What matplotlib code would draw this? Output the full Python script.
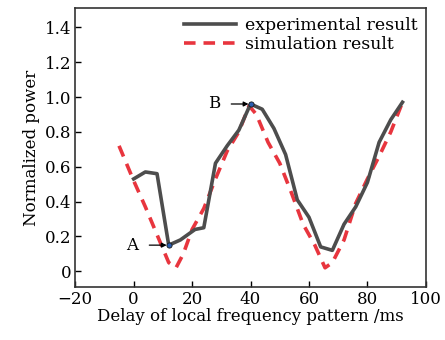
import matplotlib
matplotlib.use("Agg")
import matplotlib.pyplot as plt

# experimental result
exp_x = [0, 4, 8, 12, 16, 21, 24, 28, 32, 36, 40, 44, 48, 52, 56, 60, 64, 68, 72, 76, 80, 84, 88, 92]
exp_y = [0.53, 0.57, 0.56, 0.15, 0.18, 0.24, 0.25, 0.62, 0.72, 0.81, 0.96, 0.93, 0.82, 0.67,
         0.41, 0.31, 0.14, 0.12, 0.27, 0.37, 0.51, 0.74, 0.87, 0.97]

# simulation result
sim_x = [-5, 0, 4, 8, 12, 14.5, 17, 20, 24, 28, 32, 36, 39.5, 42, 46, 50, 54, 58, 62, 65.5,
         68, 72, 76, 80, 84, 88, 92]
sim_y = [0.72, 0.52, 0.37, 0.21, 0.05, 0.02, 0.10, 0.24, 0.36, 0.53, 0.69, 0.80, 0.95, 0.90,
         0.74, 0.62, 0.45, 0.27, 0.15, 0.02, 0.05, 0.18, 0.39, 0.53, 0.66, 0.80, 0.97]

# marked points
pt_labels = ["A", "B"]
pt_x = [12, 40]
pt_y = [0.15, 0.96]

plt.rcParams["font.family"] = "DejaVu Serif"
plt.rcParams["font.size"] = 12

fig = plt.figure(figsize=(4.45, 3.4), dpi=100)
ax = fig.add_axes([0.169, 0.156, 0.788, 0.82])

ax.plot(exp_x, exp_y, color="#4d4d4d", lw=2.6, label="experimental result", zorder=3)
ax.plot(sim_x, sim_y, color="#e8353e", lw=2.6, ls=(0, (3.2, 2.2)), label="simulation result", zorder=2)
ax.scatter(pt_x, pt_y, s=14, color="#2a5db0", edgecolors="#1a1a1a", linewidths=0.6, zorder=4)

for lab, x, y in zip(pt_labels, pt_x, pt_y):
    ax.annotate(lab, xy=(x - 0.7, y), xytext=(x - 12.5, y), va="center", ha="center",
                arrowprops=dict(arrowstyle="-|>", color="black", lw=0.9, mutation_scale=7,
                                shrinkA=6, shrinkB=0))

ax.set_xlim(-20, 100)
ax.set_ylim(-0.09, 1.51)
ax.set_xticks(range(-20, 101, 20))
ax.set_xticklabels(["\u221220", "0", "20", "40", "60", "80", "100"])
ax.set_yticks([0, 0.2, 0.4, 0.6, 0.8, 1.0, 1.2, 1.4])
ax.set_yticklabels(["0", "0.2", "0.4", "0.6", "0.8", "1.0", "1.2", "1.4"])
ax.tick_params(direction="in", length=4, width=1, top=False, right=False, pad=3)
for s in ax.spines.values():
    s.set_linewidth(1.2)
    s.set_color("#333333")

ax.set_xlabel("Delay of local frequency pattern /ms", labelpad=0)
ax.set_ylabel("Normalized power", labelpad=3)

ax.legend(loc="upper right", frameon=False, handlelength=3.0, handletextpad=0.5,
          borderaxespad=0.1, labelspacing=0.15, fontsize=12.5)

fig.savefig("out.png", dpi=100)
